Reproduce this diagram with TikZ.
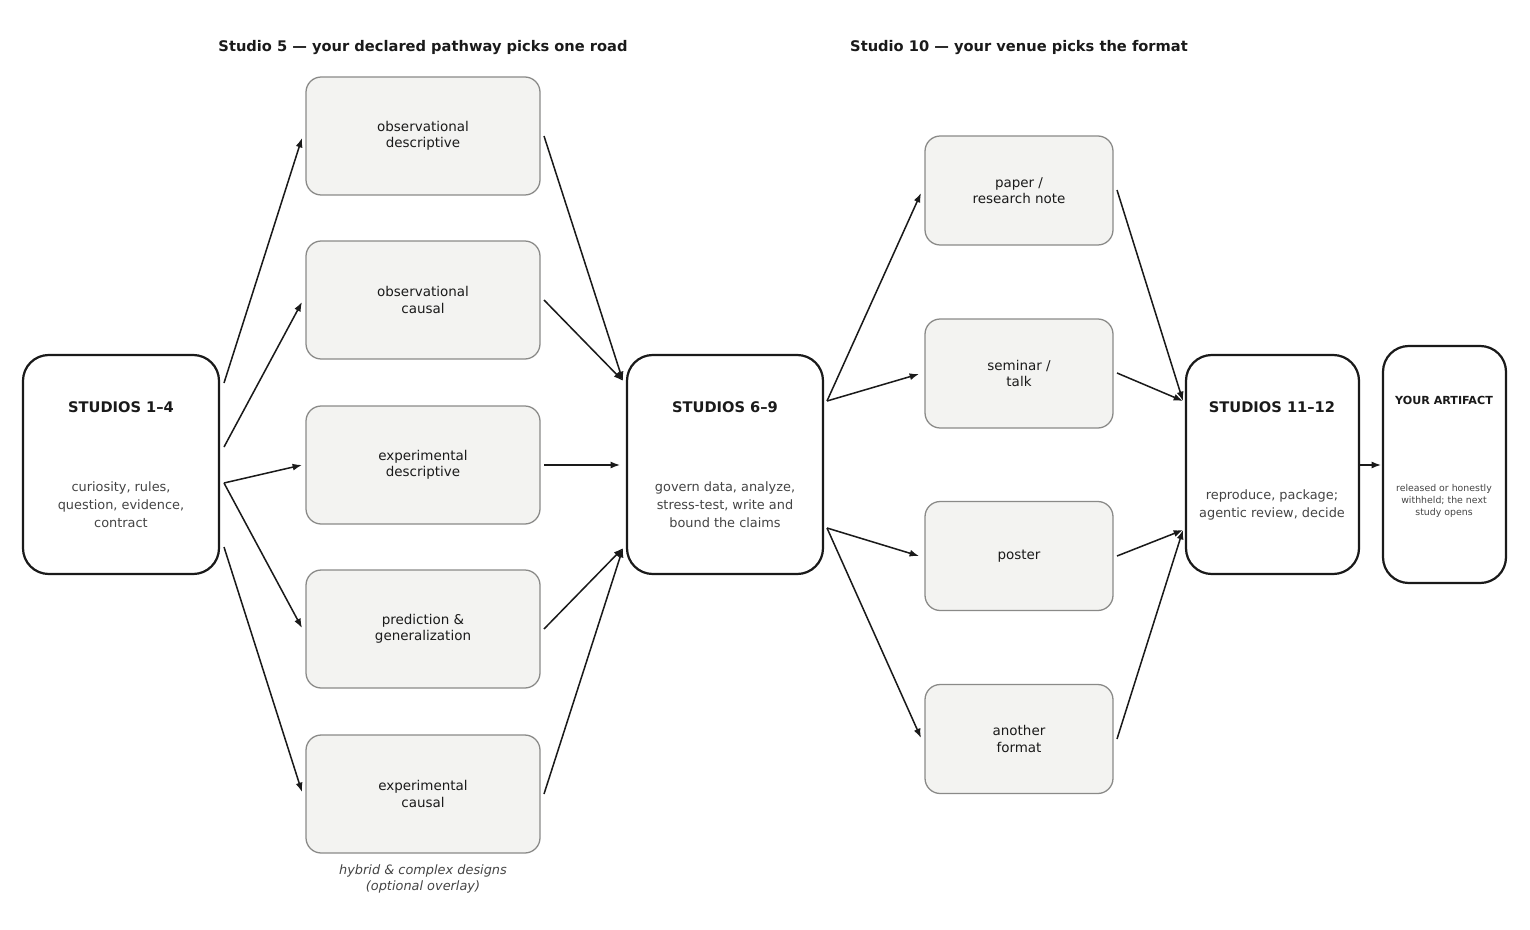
\documentclass[tikz,border=0pt]{standalone}
\usepackage{fontspec}
\setmainfont{DejaVu Sans}
\usetikzlibrary{arrows.meta}
\definecolor{ink}{HTML}{1A1A1A}
\definecolor{sub}{HTML}{444444}
\definecolor{pfill}{HTML}{F3F3F1}
\definecolor{pline}{HTML}{8A8A88}
\begin{document}
\begin{tikzpicture}[x=0.03cm,y=-0.03cm,
  big/.style={draw=ink,line width=1.9pt,rounded corners=22pt,fill=white},
  path/.style={draw=pline,line width=1.1pt,rounded corners=13pt,fill=pfill},
  ptxt/.style={align=center,font=\fontsize{11.5}{14}\selectfont,text=ink},
  btitle/.style={font=\bfseries\fontsize{12.5}{15}\selectfont,text=ink},
  bsub/.style={align=center,font=\fontsize{11}{15.5}\selectfont,text=sub},
  arr/.style={draw=ink,line width=1.3pt,-{Latex[length=8pt,width=6pt]}},
  hdr/.style={font=\bfseries\fontsize{12.5}{15}\selectfont,text=ink}]
\useasboundingbox (0,0) rectangle (1530,930);
\node[hdr] (h1) at (423,48) {Studio 5 — your declared pathway picks one road};
\node[hdr] (h2) at (1019,48) {Studio 10 — your venue picks the format};
% big boxes
\draw[big] (23,355) rectangle (219,574);
\node[btitle] (t1) at (121,407) {STUDIOS 1–4};
\node[bsub] (s1) at (121,505) {curiosity, rules,\\question, evidence,\\contract};
\draw[big] (627,355) rectangle (823,574);
\node[btitle] (t2) at (725,407) {STUDIOS 6–9};
\node[bsub] (s2) at (725,505) {govern data, analyze,\\stress-test, write and\\bound the claims};
\draw[big] (1186,355) rectangle (1359,574);
\node[btitle] (t3) at (1272,407) {STUDIOS 11–12};
\node[bsub] (s3) at (1272,505) {reproduce, package;\\agentic review, decide};
\draw[big] (1383,346) rectangle (1506,583);
\node[font=\bfseries\fontsize{9.5}{12}\selectfont,text=ink] (t4) at (1444,400) {YOUR ARTIFACT};
\node[align=center,font=\fontsize{8}{10.5}\selectfont,text=sub] (s4) at (1444,501) {released or honestly\\withheld; the next\\study opens};
% pathway boxes
\foreach \c/\t [count=\i] in {136/{observational\\descriptive},300/{observational\\causal},465/{experimental\\descriptive},629/{prediction \&\\generalization},794/{experimental\\causal}}{
  \draw[path] (306,\c-59) rectangle (540,\c+59);
  \node[ptxt] (p\i) at (423,\c) {\t};
}
\foreach \c/\t [count=\i] in {190.5/{paper /\\research note},373.5/{seminar /\\talk},556/{poster},739/{another\\format}}{
  \draw[path] (925,\c-54.5) rectangle (1113,\c+54.5);
  \node[ptxt] (f\i) at (1019,\c) {\t};
}
\node[align=center,font=\itshape\fontsize{11}{13}\selectfont,text=sub] (cap) at (423,879) {hybrid \& complex designs\\(optional overlay)};
% coordinates
\coordinate (a1) at (224,383); \coordinate (a2) at (224,447);
\coordinate (a3) at (224,483); \coordinate (a5) at (224,547);
\foreach \y/\n in {138/1,302/2,465/3,628/4,792/5}{\coordinate (pi\n) at (302,\y);}
\foreach \y/\n in {136/1,300/2,465/3,629/4,794/5}{\coordinate (po\n) at (544,\y);}
\coordinate (m1) at (623,381); \coordinate (m3) at (620,465); \coordinate (m5) at (623,548);
\coordinate (b1) at (827,401); \coordinate (b2) at (827,528);
\coordinate (fi1) at (921,193); \coordinate (fi2) at (919,374);
\coordinate (fi3) at (919,556); \coordinate (fi4) at (921,738);
\foreach \y/\n in {190/1,373/2,556/3,739/4}{\coordinate (fo\n) at (1117,\y);}
\coordinate (r1) at (1183,401); \coordinate (r2) at (1183,530);
\coordinate (o1) at (1359,465); \coordinate (o2) at (1381,465);
% arrows
\draw[arr] (a1) -- (pi1); \draw[arr] (a2) -- (pi2); \draw[arr] (a3) -- (pi3);
\draw[arr] (a3) -- (pi4); \draw[arr] (a5) -- (pi5);
\draw[arr] (po1) -- (m1); \draw[arr] (po2) -- (m1); \draw[arr] (po3) -- (m3);
\draw[arr] (po4) -- (m5); \draw[arr] (po5) -- (m5);
\draw[arr] (b1) -- (fi1); \draw[arr] (b1) -- (fi2);
\draw[arr] (b2) -- (fi3); \draw[arr] (b2) -- (fi4);
\draw[arr] (fo1) -- (r1); \draw[arr] (fo2) -- (r1);
\draw[arr] (fo3) -- (r2); \draw[arr] (fo4) -- (r2);
\draw[arr] (o1) -- (o2);
\end{tikzpicture}
\end{document}
